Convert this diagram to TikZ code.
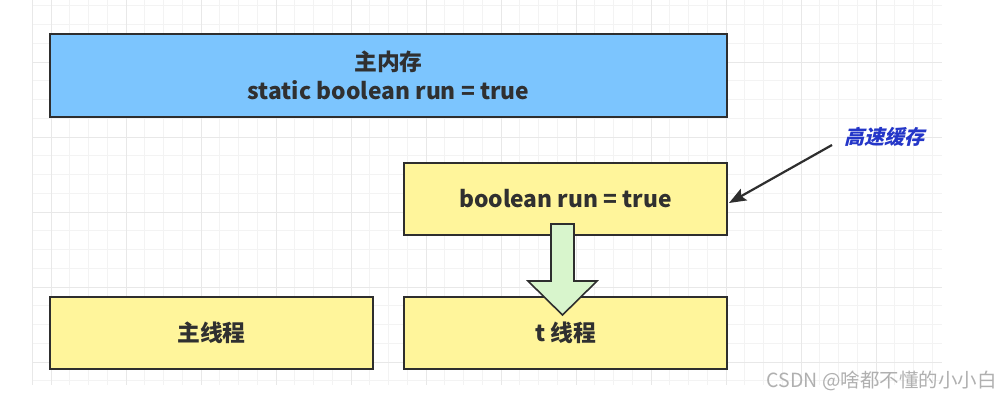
\documentclass[tikz,border=0pt]{standalone}
\usepackage{fontspec}
\setmainfont{Noto Sans CJK SC}
\newfontfamily\cjkslant{Noto Sans CJK SC}[FakeSlant=0.25]
\usetikzlibrary{arrows.meta,calc}
\definecolor{gridminor}{HTML}{F3F3F3}
\definecolor{gridmajor}{HTML}{E8E8E8}
\definecolor{memblue}{HTML}{7CC5FE}
\definecolor{boxyellow}{HTML}{FFF59B}
\definecolor{arrowgreen}{HTML}{D8F5CC}
\definecolor{edge}{HTML}{2E2E2E}
\definecolor{txt}{HTML}{303030}
\definecolor{lblblue}{HTML}{2436C8}
\definecolor{wmgray}{HTML}{B0B0B0}
\tikzset{
  boxbase/.style={draw=edge, line width=2pt, text=txt, font=\fontsize{22.8}{29}\selectfont\bfseries, align=center, inner sep=0pt},
  membox/.style={boxbase, fill=memblue, minimum width=677pt, minimum height=83pt},
  thbox/.style={boxbase, fill=boxyellow, minimum width=323pt, minimum height=72pt},
  lbl/.style={text=lblblue, font=\fontsize{20}{22}\selectfont\cjkslant\bfseries, inner sep=0pt},
  wm/.style={text=wmgray, font=\fontsize{19.5}{21}\selectfont, inner sep=0pt, anchor=east},
  blockarrow/.style={draw=edge, line width=1.6pt, fill=arrowgreen, line join=miter},
  pointer/.style={draw=edge, line width=2.2pt, -{Stealth[length=17pt,width=13pt,inset=3pt]}}
}
\begin{document}
\begin{tikzpicture}[x=1pt,y=-1pt]
\useasboundingbox (0,0) rectangle (1003,400);
\fill[white] (0,0) rectangle (1003,400);
% grid
\foreach \i in {0,...,48} {
  \draw[gridminor, line width=1pt] ({32.25+18.75*\i},0) -- ({32.25+18.75*\i},385);
}
\foreach \j in {0,...,20} {
  \draw[gridminor, line width=1pt] (32,{5.75+18.75*\j}) -- (942,{5.75+18.75*\j});
}
\foreach \i in {0,...,11} {
  \draw[gridmajor, line width=1pt] ({51+75*\i},0) -- ({51+75*\i},385);
}
\foreach \j in {0,...,4} {
  \draw[gridmajor, line width=1pt] (32,{62+75*\j}) -- (942,{62+75*\j});
}
\draw[gridmajor, line width=1pt] (32.25,0) -- (32.25,385);
% boxes
\node[membox] (mem) at (388.5,75.5) {主内存\\static boolean run = true};
\node[thbox] (cache) at (565.5,199) {boolean run = true};
\node[thbox] (mainth) at (211.5,333) {主线程};
\node[thbox] (tth) at (565.5,333) {t 线程};
% block arrow from cache to t thread
\draw[blockarrow] (551,224) -- (574,224) -- (574,281) -- (597,281) -- (562.5,315) -- (528,281) -- (551,281) -- cycle;
% label and pointer
\node[lbl] (cachelbl) at (884,137) {高速缓存};
\coordinate (lblend) at (832,145);
\draw[pointer] (lblend) -- ($(cache.east)+(1,4)$);
% watermark
\node[wm] (wmark) at (997,381) {CSDN @啥都不懂的小小白};
\end{tikzpicture}
\end{document}
